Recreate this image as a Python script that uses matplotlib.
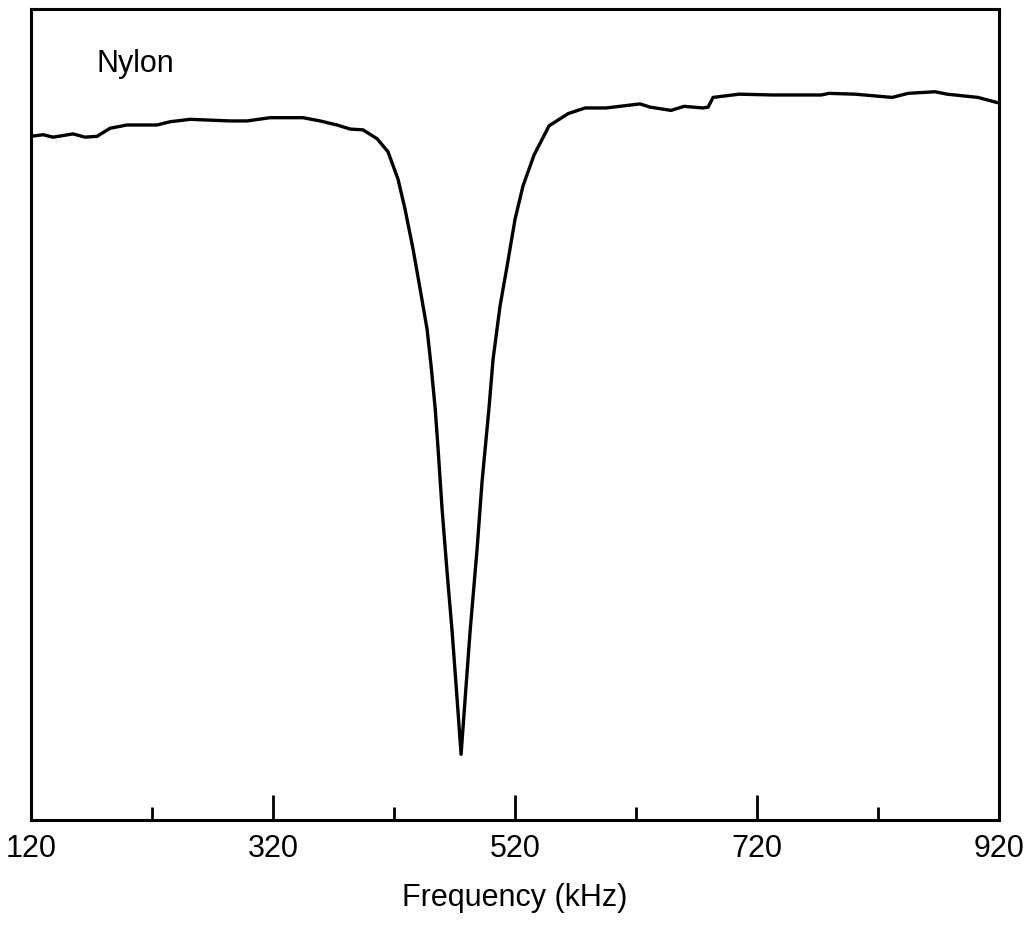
import matplotlib
matplotlib.use("Agg")
import matplotlib.pyplot as plt
from matplotlib.ticker import FixedLocator

plt.rcParams['font.family'] = ['Liberation Sans', 'DejaVu Sans']

# frequency (kHz) and relative response (arbitrary units, axis runs 0..100)
freq = [120, 129.9, 138.2, 154.7, 164.6, 174.5, 185.3, 199.3, 224.1, 234.9,
        251.4, 284.5, 298.5, 317.5, 344.8, 358.8, 372.9, 383.6, 394.4, 406.0,
        415.0, 423.3, 429.1, 435.7, 441.5, 447.3, 450.6, 454.0, 456.4, 459.7,
        463.8, 468.0, 472.1, 475.4, 478.7, 482.8, 488.6, 492.7, 498.4, 501.8,
        507.6, 513.4, 520.0, 526.6, 535.7, 548.1, 563.8, 577.9, 595.2, 623.3,
        631.6, 648.9, 659.7, 675.4, 679.5, 683.6, 705.1, 733.2, 772.9, 779.5,
        801.0, 831.6, 844.8, 867.1, 877.0, 902.6, 920.0]
response = [84.3, 84.5, 84.2, 84.6, 84.2, 84.3, 85.3, 85.7, 85.7, 86.1,
            86.4, 86.2, 86.2, 86.6, 86.6, 86.2, 85.7, 85.2, 85.1, 84.0,
            82.4, 79.0, 75.3, 70.4, 65.5, 60.5, 56.0, 50.7, 45.7, 38.3,
            30.6, 23.2, 14.9, 8.1, 14.9, 23.2, 33.4, 41.7, 50.7, 56.8,
            63.4, 68.3, 74.1, 78.2, 82.0, 85.6, 87.1, 87.8, 87.8, 88.3,
            87.9, 87.5, 88.0, 87.8, 87.9, 89.1, 89.5, 89.4, 89.4, 89.6,
            89.5, 89.1, 89.6, 89.8, 89.5, 89.1, 88.4]

major_ticks = [120, 320, 520, 720, 920]
minor_ticks = [220, 420, 620, 820]

fig = plt.figure(figsize=(10.35, 9.28), dpi=100)
ax = fig.add_axes([0.030, 0.1153, 0.9353, 0.8739])

ax.plot(freq, response, color='black', lw=2.4, solid_joinstyle='round')

ax.set_xlim(120, 920)
ax.set_ylim(0, 100)
ax.set_xticks(major_ticks)
ax.set_xticklabels([str(t) for t in major_ticks])
ax.xaxis.set_minor_locator(FixedLocator(minor_ticks))
ax.set_yticks([])
ax.tick_params(axis='x', which='major', direction='in', length=18, width=2,
               pad=9, labelsize=22)
ax.tick_params(axis='x', which='minor', direction='in', length=9.5, width=2)
for s in ax.spines.values():
    s.set_linewidth(2.2)

ax.set_xlabel("Frequency (kHz)", fontsize=22, labelpad=14)
ax.text(0.068, 0.9236, "Nylon", transform=ax.transAxes, fontsize=22,
        va='baseline', ha='left')

fig.savefig("out.png", dpi=100)
